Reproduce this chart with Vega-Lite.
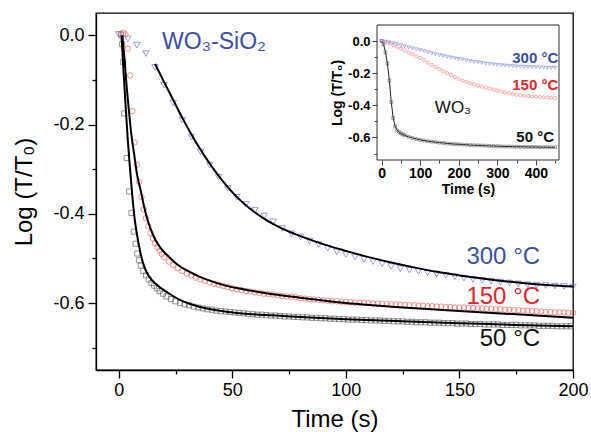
{
  "$schema": "https://vega.github.io/schema/vega-lite/v6.json",
  "width": 477,
  "height": 357,
  "autosize": "none",
  "padding": {"left": 96, "top": 13, "right": 18, "bottom": 69},
  "background": "white",
  "config": {
    "view": {"stroke": "#000", "strokeWidth": 1.3},
    "font": "Liberation Sans",
    "axis": {
      "grid": false, "domainColor": "#000", "tickColor": "#000", "labelColor": "#000", "titleColor": "#000",
      "labelFont": "Liberation Sans", "titleFont": "Liberation Sans", "labelFlush": false, "labelOverlap": false
    }
  },
  "datasets": {
    "s50": [
      {"t":1,"y":0},{"t":1.5,"y":-0.02},{"t":2,"y":-0.06},{"t":2.4,"y":-0.175},{"t":3.5,"y":-0.275},{"t":4.6,"y":-0.35},{"t":5.6,"y":-0.398},{"t":6.6,"y":-0.44},{"t":7.4,"y":-0.467},{"t":8.2,"y":-0.489},{"t":8.9,"y":-0.504},{"t":9.7,"y":-0.516},{"t":10.8,"y":-0.528},{"t":12,"y":-0.538},{"t":13.2,"y":-0.547},{"t":14.4,"y":-0.555},{"t":15.6,"y":-0.561},{"t":16.8,"y":-0.567},{"t":18,"y":-0.573},{"t":19.5,"y":-0.579},{"t":21,"y":-0.585},
      {"t":23,"y":-0.591},{"t":25,"y":-0.596},{"t":27,"y":-0.6},{"t":29,"y":-0.603},{"t":31,"y":-0.605},{"t":33,"y":-0.608},{"t":35,"y":-0.61},{"t":37,"y":-0.612},{"t":39,"y":-0.614},{"t":41,"y":-0.615},{"t":43,"y":-0.617},{"t":45,"y":-0.618},{"t":47,"y":-0.619},{"t":49,"y":-0.62},{"t":51,"y":-0.621},{"t":53,"y":-0.622},{"t":55,"y":-0.623},{"t":57,"y":-0.624},{"t":59,"y":-0.625},{"t":61,"y":-0.626},{"t":63,"y":-0.626},{"t":65,"y":-0.627},{"t":67,"y":-0.628},{"t":69,"y":-0.628},{"t":71,"y":-0.629},{"t":73,"y":-0.63},{"t":75,"y":-0.63},{"t":77,"y":-0.631},{"t":79,"y":-0.631},
      {"t":81,"y":-0.632},{"t":83,"y":-0.632},{"t":85,"y":-0.633},{"t":87,"y":-0.633},{"t":89,"y":-0.634},{"t":91,"y":-0.634},{"t":93,"y":-0.635},{"t":95,"y":-0.635},{"t":97,"y":-0.636},{"t":99,"y":-0.636},{"t":101,"y":-0.637},{"t":103,"y":-0.637},{"t":105,"y":-0.637},{"t":107,"y":-0.638},{"t":109,"y":-0.638},{"t":111,"y":-0.639},{"t":113,"y":-0.639},{"t":115,"y":-0.639},{"t":117,"y":-0.64},{"t":119,"y":-0.64},{"t":121,"y":-0.641},{"t":123,"y":-0.641},{"t":125,"y":-0.641},{"t":127,"y":-0.642},{"t":129,"y":-0.642},{"t":131,"y":-0.643},{"t":133,"y":-0.643},{"t":135,"y":-0.643},{"t":137,"y":-0.644},{"t":139,"y":-0.644},{"t":141,"y":-0.644},{"t":143,"y":-0.645},{"t":145,"y":-0.645},{"t":147,"y":-0.645},{"t":149,"y":-0.646},{"t":151,"y":-0.646},{"t":153,"y":-0.646},{"t":155,"y":-0.647},{"t":157,"y":-0.647},{"t":159,"y":-0.647},{"t":161,"y":-0.648},{"t":163,"y":-0.648},{"t":165,"y":-0.648},{"t":167,"y":-0.648},{"t":169,"y":-0.649},{"t":171,"y":-0.649},{"t":173,"y":-0.649},{"t":175,"y":-0.649},{"t":177,"y":-0.65},{"t":179,"y":-0.65},{"t":181,"y":-0.65},{"t":183,"y":-0.65},{"t":185,"y":-0.651},{"t":187,"y":-0.651},{"t":189,"y":-0.651},{"t":191,"y":-0.651},{"t":193,"y":-0.652},{"t":195,"y":-0.652},{"t":197,"y":-0.652},{"t":199,"y":-0.652}
    ],
    "s150": [
      {"t":1,"y":0.004},{"t":2,"y":0.005},{"t":3,"y":0.002},{"t":4,"y":-0.03},{"t":5,"y":-0.09},{"t":6,"y":-0.17},{"t":7,"y":-0.24},{"t":8,"y":-0.29},{"t":9,"y":-0.328},{"t":10,"y":-0.362},{"t":11,"y":-0.39},{"t":12,"y":-0.41},{"t":13,"y":-0.428},{"t":14,"y":-0.443},{"t":15,"y":-0.455},{"t":16,"y":-0.466},{"t":17,"y":-0.475},{"t":18,"y":-0.483},{"t":19,"y":-0.49},{"t":20,"y":-0.497},
      {"t":22,"y":-0.507},{"t":24,"y":-0.515},{"t":26,"y":-0.522},{"t":28,"y":-0.528},{"t":30,"y":-0.534},{"t":32,"y":-0.538},{"t":34,"y":-0.543},{"t":36,"y":-0.547},{"t":38,"y":-0.55},{"t":40,"y":-0.554},{"t":42,"y":-0.557},{"t":44,"y":-0.559},{"t":46,"y":-0.562},{"t":48,"y":-0.564},{"t":50,"y":-0.567},{"t":52,"y":-0.569},{"t":54,"y":-0.571},{"t":56,"y":-0.573},{"t":58,"y":-0.574},{"t":60,"y":-0.576},{"t":62,"y":-0.577},{"t":64,"y":-0.579},{"t":66,"y":-0.58},{"t":68,"y":-0.581},{"t":70,"y":-0.583},{"t":72,"y":-0.584},{"t":74,"y":-0.585},{"t":76,"y":-0.586},{"t":78,"y":-0.587},{"t":80,"y":-0.589},
      {"t":82,"y":-0.59},{"t":84,"y":-0.591},{"t":86,"y":-0.592},{"t":88,"y":-0.593},{"t":90,"y":-0.594},{"t":92,"y":-0.595},{"t":94,"y":-0.596},{"t":96,"y":-0.596},{"t":98,"y":-0.597},{"t":100,"y":-0.598},{"t":102,"y":-0.598},{"t":104,"y":-0.599},{"t":106,"y":-0.599},{"t":108,"y":-0.6},{"t":110,"y":-0.6},{"t":112,"y":-0.601},{"t":114,"y":-0.601},{"t":116,"y":-0.602},{"t":118,"y":-0.602},{"t":120,"y":-0.603},{"t":122,"y":-0.603},{"t":124,"y":-0.604},{"t":126,"y":-0.604},{"t":128,"y":-0.605},{"t":130,"y":-0.605},{"t":132,"y":-0.606},{"t":134,"y":-0.606},{"t":136,"y":-0.607},{"t":138,"y":-0.607},{"t":140,"y":-0.608},{"t":142,"y":-0.608},{"t":144,"y":-0.609},{"t":146,"y":-0.609},{"t":148,"y":-0.61},{"t":150,"y":-0.61},{"t":152,"y":-0.61},{"t":154,"y":-0.611},{"t":156,"y":-0.611},{"t":158,"y":-0.612},{"t":160,"y":-0.612},{"t":162,"y":-0.613},{"t":164,"y":-0.613},{"t":166,"y":-0.614},{"t":168,"y":-0.614},{"t":170,"y":-0.615},{"t":172,"y":-0.615},{"t":174,"y":-0.616},{"t":176,"y":-0.616},{"t":178,"y":-0.617},{"t":180,"y":-0.617},{"t":182,"y":-0.618},{"t":184,"y":-0.618},{"t":186,"y":-0.619},{"t":188,"y":-0.62},{"t":190,"y":-0.62},{"t":192,"y":-0.621},{"t":194,"y":-0.621},{"t":196,"y":-0.621},{"t":198,"y":-0.622},{"t":200,"y":-0.622}
    ],
    "s300": [
      {"t":0,"y":0.002},{"t":4,"y":-0.008},{"t":8,"y":-0.022},{"t":12,"y":-0.041},{"t":16,"y":-0.072},{"t":20,"y":-0.112},{"t":24,"y":-0.152},{"t":28,"y":-0.19},{"t":32,"y":-0.228},{"t":36,"y":-0.261},{"t":40,"y":-0.291},{"t":44,"y":-0.318},{"t":48,"y":-0.343},{"t":52,"y":-0.363},{"t":56,"y":-0.379},{"t":60,"y":-0.392},{"t":64,"y":-0.405},{"t":68,"y":-0.418},{"t":72,"y":-0.433},{"t":76,"y":-0.445},{"t":80,"y":-0.452},{"t":84,"y":-0.461},{"t":88,"y":-0.469},{"t":92,"y":-0.477},{"t":96,"y":-0.485},{"t":100,"y":-0.491},{"t":104,"y":-0.497},{"t":108,"y":-0.502},{"t":112,"y":-0.507},{"t":116,"y":-0.512},{"t":120,"y":-0.518},{"t":124,"y":-0.523},{"t":128,"y":-0.526},{"t":132,"y":-0.529},{"t":136,"y":-0.532},{"t":140,"y":-0.535},{"t":144,"y":-0.538},{"t":148,"y":-0.541},{"t":152,"y":-0.544},{"t":156,"y":-0.547},{"t":160,"y":-0.549},{"t":164,"y":-0.551},{"t":168,"y":-0.553},{"t":172,"y":-0.555},{"t":176,"y":-0.557},{"t":180,"y":-0.559},{"t":184,"y":-0.56},{"t":188,"y":-0.561},{"t":192,"y":-0.562},{"t":196,"y":-0.563},{"t":200,"y":-0.564}
    ],
    "fit": [
      {"s":"50","t":1.2,"y":0},{"s":"50","t":2,"y":-0.07},{"s":"50","t":3,"y":-0.155},{"s":"50","t":4,"y":-0.235},{"s":"50","t":5,"y":-0.3},{"s":"50","t":6,"y":-0.36},{"s":"50","t":7,"y":-0.41},{"s":"50","t":8,"y":-0.445},{"s":"50","t":9,"y":-0.473},{"s":"50","t":10,"y":-0.497},{"s":"50","t":11,"y":-0.515},{"s":"50","t":12.6,"y":-0.534},{"s":"50","t":15,"y":-0.551},{"s":"50","t":18.5,"y":-0.566},{"s":"50","t":22,"y":-0.578},{"s":"50","t":27,"y":-0.593},{"s":"50","t":36,"y":-0.609},{"s":"50","t":50,"y":-0.621},{"s":"50","t":65,"y":-0.627},{"s":"50","t":80,"y":-0.631},{"s":"50","t":100,"y":-0.636},{"s":"50","t":125,"y":-0.641},{"s":"50","t":150,"y":-0.645},{"s":"50","t":175,"y":-0.649},{"s":"50","t":200,"y":-0.652},
      {"s":"150","t":1.6,"y":0},{"s":"150","t":2.5,"y":-0.05},{"s":"150","t":3.5,"y":-0.115},{"s":"150","t":4.5,"y":-0.169},{"s":"150","t":5.5,"y":-0.22},{"s":"150","t":6.8,"y":-0.266},{"s":"150","t":8,"y":-0.31},{"s":"150","t":9.7,"y":-0.348},{"s":"150","t":11,"y":-0.38},{"s":"150","t":12.6,"y":-0.412},{"s":"150","t":14.5,"y":-0.44},{"s":"150","t":16.3,"y":-0.46},{"s":"150","t":19,"y":-0.48},{"s":"150","t":21.4,"y":-0.493},{"s":"150","t":25,"y":-0.51},{"s":"150","t":30,"y":-0.527},{"s":"150","t":36,"y":-0.542},{"s":"150","t":42,"y":-0.553},{"s":"150","t":48,"y":-0.562},{"s":"150","t":53.7,"y":-0.568},{"s":"150","t":65,"y":-0.578},{"s":"150","t":80,"y":-0.588},{"s":"150","t":100,"y":-0.6},{"s":"150","t":125,"y":-0.61},{"s":"150","t":150,"y":-0.618},{"s":"150","t":175,"y":-0.625},{"s":"150","t":200,"y":-0.633},
      {"s":"300","t":16,"y":-0.064},{"s":"300","t":20,"y":-0.105},{"s":"300","t":24,"y":-0.145},{"s":"300","t":28,"y":-0.185},{"s":"300","t":32,"y":-0.222},{"s":"300","t":36,"y":-0.256},{"s":"300","t":40,"y":-0.287},{"s":"300","t":44,"y":-0.315},{"s":"300","t":48,"y":-0.34},{"s":"300","t":52,"y":-0.362},{"s":"300","t":56,"y":-0.381},{"s":"300","t":60,"y":-0.397},{"s":"300","t":65,"y":-0.414},{"s":"300","t":70,"y":-0.428},{"s":"300","t":75,"y":-0.44},{"s":"300","t":80,"y":-0.45},{"s":"300","t":90,"y":-0.468},{"s":"300","t":100,"y":-0.483},{"s":"300","t":110,"y":-0.497},{"s":"300","t":120,"y":-0.509},{"s":"300","t":130,"y":-0.52},{"s":"300","t":140,"y":-0.53},{"s":"300","t":150,"y":-0.538},{"s":"300","t":160,"y":-0.545},{"s":"300","t":170,"y":-0.551},{"s":"300","t":180,"y":-0.556},{"s":"300","t":190,"y":-0.56},{"s":"300","t":200,"y":-0.563}
    ],
    "i50": [
      {"t":0,"y":0},{"t":5,"y":-0.02},{"t":10,"y":-0.07},{"t":15,"y":-0.14},{"t":20,"y":-0.245},{"t":25,"y":-0.38},{"t":30,"y":-0.48},{"t":35,"y":-0.53},{"t":40,"y":-0.555},{"t":45,"y":-0.566},{"t":50,"y":-0.575},{"t":55,"y":-0.581},{"t":60,"y":-0.587},{"t":70,"y":-0.596},{"t":80,"y":-0.603},{"t":90,"y":-0.609},{"t":100,"y":-0.615},{"t":110,"y":-0.619},{"t":120,"y":-0.623},{"t":130,"y":-0.626},{"t":140,"y":-0.629},{"t":150,"y":-0.632},{"t":160,"y":-0.634},{"t":170,"y":-0.637},{"t":180,"y":-0.639},{"t":190,"y":-0.641},{"t":200,"y":-0.642},{"t":210,"y":-0.644},{"t":220,"y":-0.645},{"t":230,"y":-0.647},{"t":240,"y":-0.648},{"t":250,"y":-0.649},{"t":260,"y":-0.65},{"t":270,"y":-0.651},{"t":280,"y":-0.652},{"t":290,"y":-0.653},{"t":300,"y":-0.654},{"t":310,"y":-0.655},{"t":320,"y":-0.656},{"t":330,"y":-0.656},{"t":340,"y":-0.657},{"t":350,"y":-0.657},{"t":360,"y":-0.658},{"t":370,"y":-0.658},{"t":380,"y":-0.659},{"t":390,"y":-0.659},{"t":400,"y":-0.659},{"t":410,"y":-0.66},{"t":420,"y":-0.66},{"t":430,"y":-0.66},{"t":440,"y":-0.661},{"t":450,"y":-0.661}
    ],
    "i150": [
      {"t":0,"y":0},{"t":10,"y":-0.006},{"t":20,"y":-0.014},{"t":30,"y":-0.024},{"t":40,"y":-0.035},{"t":50,"y":-0.047},{"t":60,"y":-0.058},{"t":70,"y":-0.07},{"t":80,"y":-0.082},{"t":90,"y":-0.095},{"t":100,"y":-0.105},{"t":110,"y":-0.12},{"t":120,"y":-0.134},{"t":130,"y":-0.148},{"t":140,"y":-0.162},{"t":150,"y":-0.175},{"t":160,"y":-0.188},{"t":170,"y":-0.2},{"t":180,"y":-0.212},{"t":190,"y":-0.224},{"t":200,"y":-0.235},{"t":210,"y":-0.245},{"t":220,"y":-0.254},{"t":230,"y":-0.262},{"t":240,"y":-0.27},{"t":250,"y":-0.277},{"t":260,"y":-0.284},{"t":270,"y":-0.29},{"t":280,"y":-0.296},{"t":290,"y":-0.302},{"t":300,"y":-0.308},{"t":310,"y":-0.314},{"t":320,"y":-0.32},{"t":330,"y":-0.325},{"t":340,"y":-0.33},{"t":350,"y":-0.334},{"t":360,"y":-0.337},{"t":370,"y":-0.34},{"t":380,"y":-0.342},{"t":390,"y":-0.344},{"t":400,"y":-0.346},{"t":410,"y":-0.348},{"t":420,"y":-0.35},{"t":430,"y":-0.351},{"t":440,"y":-0.353},{"t":450,"y":-0.354}
    ],
    "i300": [
      {"t":0,"y":0},{"t":10,"y":-0.004},{"t":20,"y":-0.008},{"t":30,"y":-0.013},{"t":40,"y":-0.019},{"t":50,"y":-0.026},{"t":60,"y":-0.033},{"t":70,"y":-0.039},{"t":80,"y":-0.045},{"t":90,"y":-0.051},{"t":100,"y":-0.057},{"t":110,"y":-0.063},{"t":120,"y":-0.07},{"t":130,"y":-0.076},{"t":140,"y":-0.082},{"t":150,"y":-0.087},{"t":160,"y":-0.092},{"t":170,"y":-0.097},{"t":180,"y":-0.102},{"t":190,"y":-0.107},{"t":200,"y":-0.111},{"t":210,"y":-0.115},{"t":220,"y":-0.12},{"t":230,"y":-0.125},{"t":240,"y":-0.129},{"t":250,"y":-0.132},{"t":260,"y":-0.136},{"t":270,"y":-0.139},{"t":280,"y":-0.142},{"t":290,"y":-0.145},{"t":300,"y":-0.148},{"t":310,"y":-0.15},{"t":320,"y":-0.152},{"t":330,"y":-0.154},{"t":340,"y":-0.156},{"t":350,"y":-0.158},{"t":360,"y":-0.159},{"t":370,"y":-0.16},{"t":380,"y":-0.161},{"t":390,"y":-0.162},{"t":400,"y":-0.163},{"t":410,"y":-0.164},{"t":420,"y":-0.165},{"t":430,"y":-0.165},{"t":440,"y":-0.166},{"t":450,"y":-0.166}
    ],
    "labm": [
      {"k":"b","t":185.5,"y":-0.497,"label":"300 °C"},
      {"k":"r","t":185.5,"y":-0.587,"label":"150 °C"},
      {"k":"k","t":185.5,"y":-0.68,"label":"50 °C"}
    ],
    "wom": [{"k":"b","t":19.1,"y":-0.015,"label":"WO₃-SiO₂"}],
    "labi": [
      {"k":"b","t":458,"y":-0.107,"label":"300 °C"},
      {"k":"r","t":458,"y":-0.273,"label":"150 °C"},
      {"k":"k","t":447,"y":-0.595,"label":"50 °C"}
    ],
    "woi": [{"k":"k","t":138,"y":-0.418,"label":"WO₃"}],
    "frame": [{"x1":-12,"x2":460,"y1":-0.74,"y2":0.1}]
  },
  "layer": [
    {
      "encoding": {
        "x": {"field": "t", "type": "quantitative",
          "scale": {"domain": [-10, 200], "nice": false, "zero": false},
          "axis": {"title": "Time (s)", "values": [0,25,50,75,100,125,150,175,200],
            "labelExpr": "datum.value % 50 == 0 ? datum.label : ''",
            "tickSize": {"condition": {"test": "datum.value % 50 != 0", "value": 4}, "value": 8},
            "labelFontSize": 18, "titleFontSize": 24, "titleFontWeight": "normal",
            "labelPadding": 3, "titlePadding": 8, "domainWidth": 1.3, "tickWidth": 1.3}},
        "y": {"field": "y", "type": "quantitative",
          "scale": {"domain": [-0.75, 0.05], "nice": false, "zero": false},
          "axis": {"title": "Log (T/T₀)", "values": [-0.7,-0.6,-0.5,-0.4,-0.3,-0.2,-0.1,0],
            "labelExpr": "round(datum.value*10) % 2 != 0 ? '' : replace(format(datum.value, '.1f'), '−', '-')",
            "tickSize": {"condition": {"test": "round(datum.value*10) % 2 != 0", "value": 4}, "value": 8},
            "labelFontSize": 18, "titleFontSize": 24, "titleFontWeight": "normal",
            "labelPadding": 4, "titlePadding": 16, "domainWidth": 1.3, "tickWidth": 1.3}}
      },
      "layer": [
        {"data": {"name": "s50"}, "mark": {"type": "point", "shape": "square", "filled": false, "color": "#666666", "strokeWidth": 1, "size": 26}},
        {"data": {"name": "s150"}, "mark": {"type": "point", "shape": "circle", "filled": false, "color": "#f06060", "strokeWidth": 1, "size": 30}},
        {"data": {"name": "s300"}, "mark": {"type": "point", "shape": "triangle-down", "filled": false, "color": "#6a72d0", "strokeWidth": 1, "size": 42}},
        {"data": {"name": "fit"}, "mark": {"type": "line", "color": "#000", "strokeWidth": 2, "interpolate": "monotone"}, "encoding": {"detail": {"field": "s"}}},
        {"data": {"name": "labm"}, "mark": {"type": "text", "align": "right", "baseline": "middle", "fontSize": 24, "font": "Liberation Sans"},
          "encoding": {"text": {"field": "label"}, "color": {"field": "k", "type": "nominal", "scale": {"domain": ["k","r","b"], "range": ["#111111","#e2252b","#3b4fa4"]}, "legend": null}}},
        {"data": {"name": "wom"}, "mark": {"type": "text", "align": "left", "baseline": "middle", "fontSize": 23, "font": "Liberation Sans"},
          "encoding": {"text": {"field": "label"}, "color": {"field": "k", "type": "nominal", "scale": {"domain": ["k","r","b"], "range": ["#111111","#e2252b","#3b4fa4"]}, "legend": null}}}
      ]
    },
    {
      "encoding": {
        "x": {"field": "t", "type": "quantitative",
          "scale": {"domain": [-12, 460], "range": [281, 463], "nice": false, "zero": false},
          "axis": {"orient": "bottom", "offset": -210, "title": "Time (s)", "values": [0,50,100,150,200,250,300,350,400,450],
            "labelExpr": "datum.value % 100 == 0 ? datum.label : ''",
            "tickSize": {"condition": {"test": "datum.value % 100 != 0", "value": 3}, "value": 5},
            "labelFontSize": 14, "labelFontWeight": "bold", "titleFontSize": 14, "titleFontWeight": "bold",
            "labelPadding": 1, "titlePadding": 2, "domain": false, "tickWidth": 1, "tickColor": "#444"}},
        "y": {"field": "y", "type": "quantitative",
          "scale": {"domain": [-0.74, 0.1], "range": [147, 12], "nice": false, "zero": false},
          "axis": {"orient": "left", "offset": -281, "title": "Log (T/T₀)", "values": [-0.7,-0.6,-0.5,-0.4,-0.3,-0.2,-0.1,0],
            "labelExpr": "round(datum.value*10) % 2 != 0 ? '' : replace(format(datum.value, '.1f'), '−', '-')",
            "tickSize": {"condition": {"test": "round(datum.value*10) % 2 != 0", "value": 3}, "value": 5},
            "labelFontSize": 13, "labelFontWeight": "bold", "titleFontSize": 14, "titleFontWeight": "bold",
            "labelPadding": 2, "titlePadding": 3, "domain": false, "tickWidth": 1, "tickColor": "#444"}}
      },
      "layer": [
        {"data": {"name": "frame"}, "mark": {"type": "rect", "filled": false, "color": "#333333", "strokeWidth": 1},
          "encoding": {"x": {"field": "x1", "type": "quantitative"}, "x2": {"field": "x2"}, "y": {"field": "y1", "type": "quantitative"}, "y2": {"field": "y2"}}},
        {"data": {"name": "i50"}, "mark": {"type": "line", "color": "#222", "strokeWidth": 1}},
        {"data": {"name": "i50"}, "mark": {"type": "point", "shape": "square", "filled": false, "color": "#444", "strokeWidth": 0.7, "size": 8}},
        {"data": {"name": "i150"}, "mark": {"type": "point", "shape": "circle", "filled": false, "color": "#ee5555", "strokeWidth": 0.7, "size": 10}},
        {"data": {"name": "i300"}, "mark": {"type": "point", "shape": "triangle-down", "filled": false, "color": "#5560c8", "strokeWidth": 0.7, "size": 11}},
        {"data": {"name": "labi"}, "mark": {"type": "text", "align": "right", "baseline": "middle", "fontSize": 15, "fontWeight": "bold", "font": "Liberation Sans"},
          "encoding": {"text": {"field": "label"}, "color": {"field": "k", "type": "nominal", "scale": {"domain": ["k","r","b"], "range": ["#111111","#e2252b","#3b4fa4"]}, "legend": null}}},
        {"data": {"name": "woi"}, "mark": {"type": "text", "align": "left", "baseline": "middle", "fontSize": 17, "font": "Liberation Sans"},
          "encoding": {"text": {"field": "label"}, "color": {"field": "k", "type": "nominal", "scale": {"domain": ["k","r","b"], "range": ["#111111","#e2252b","#3b4fa4"]}, "legend": null}}}
      ]
    }
  ],
  "resolve": {"scale": {"x": "independent", "y": "independent"}}
}
